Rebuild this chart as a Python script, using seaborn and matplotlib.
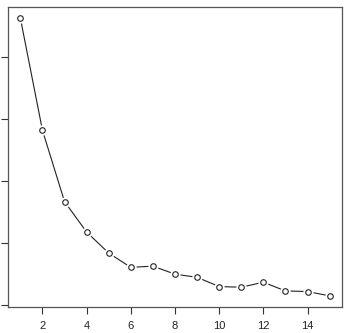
import matplotlib
matplotlib.use("Agg")
import matplotlib.pyplot as plt
import seaborn as sns
import pandas as pd

x_vals = [1, 2, 3, 4, 5, 6, 7, 8, 9, 10, 11, 12, 13, 14, 15]
y_vals = [4.63, 2.82, 1.67, 1.18, 0.84, 0.61, 0.63, 0.50, 0.45, 0.30, 0.29, 0.37, 0.23, 0.22, 0.15]
x_ticks = [2, 4, 6, 8, 10, 12, 14]
y_ticks = [0, 1, 2, 3, 4]

df = pd.DataFrame({"x": x_vals, "y": y_vals})

sns.set_theme(style="white")
plt.rcParams["font.family"] = ["Liberation Sans", "DejaVu Sans"]

fig = plt.figure(figsize=(3.49, 3.33), dpi=100)
ax = fig.add_axes([8 / 349, 26 / 333, 334 / 349, 300 / 333])

sns.lineplot(data=df, x="x", y="y", ax=ax, color="#222222", linewidth=0.8, zorder=1)
# white halo to create gaps like R type="b"
sns.scatterplot(data=df, x="x", y="y", ax=ax, s=55, color="white", edgecolor="white",
                linewidth=0, zorder=2)
sns.scatterplot(data=df, x="x", y="y", ax=ax, s=16, facecolor="white", edgecolor="#222222",
                linewidth=0.8, zorder=3, marker="o")

rng = max(y_vals) - min(y_vals)
ax.set_ylim(min(y_vals) - 0.04 * rng, max(y_vals) + 0.04 * rng)
xr = max(x_vals) - min(x_vals)
ax.set_xlim(min(x_vals) - 0.04 * xr, max(x_vals) + 0.04 * xr)

ax.set_xticks(x_ticks)
ax.set_xticklabels([str(t) for t in x_ticks])
ax.set_yticks(y_ticks)
ax.tick_params(axis="both", direction="out", length=5, width=0.8, color="#333333",
               labelsize=8, labelcolor="#222222", pad=5)
ax.tick_params(axis="y", labelleft=False, left=True)
ax.tick_params(axis="x", bottom=True)
ax.set_xlabel("")
ax.set_ylabel("")
for s in ax.spines.values():
    s.set_visible(True)
    s.set_color("#555555")
    s.set_linewidth(0.9)

fig.savefig("out.png", dpi=100)
